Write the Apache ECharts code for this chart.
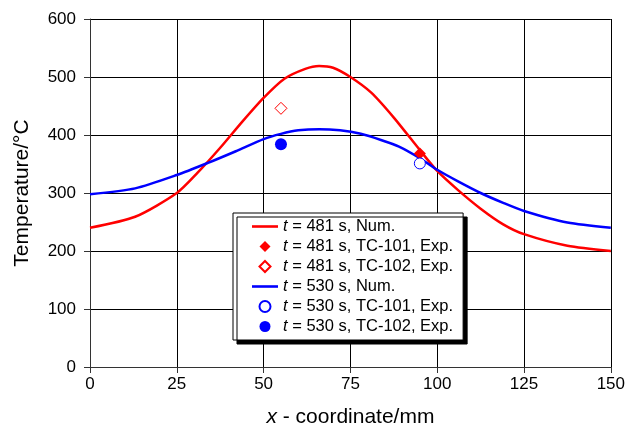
<!DOCTYPE html>
<html>
<head>
<meta charset="utf-8">
<script src="https://cdn.jsdelivr.net/npm/echarts@6/dist/echarts.min.js"></script>
<style>
  html, body { margin: 0; padding: 0; background: #fff; }
  #chart { width: 628px; height: 434px; }
</style>
</head>
<body>
<div id="chart"></div>
<script>
// Numerical temperature profiles along x (mm -> °C)
const num481X = [0, 13, 25, 31, 37.5, 44, 50, 56, 62, 66, 70, 75, 81, 87.5, 95, 100, 106, 112.5, 119, 125, 137.5, 150];
const num481T = [240, 259, 300, 335, 378, 424, 464, 497, 514, 519, 516, 500, 473, 430, 374, 338, 305, 273, 246, 229, 209, 200];

const num530X = [0, 13, 25, 34, 42, 50, 55, 60, 66, 72, 78, 84, 89, 95, 100, 106, 112.5, 119, 125, 137.5, 150];
const num530T = [298, 308, 331, 352, 372, 393, 402, 408, 410, 408, 402, 391, 380, 360, 340, 320, 300, 283, 269, 249, 240];

// Thermocouple measurements [x, T]
const exp481TC101 = [[95, 368]];
const exp481TC102 = [[55, 446]];
const exp530TC101 = [[95, 351]];
const exp530TC102 = [[55, 384]];

const seriesNames = [
  't = 481 s, Num.',
  't = 481 s, TC-101, Exp.',
  't = 481 s, TC-102, Exp.',
  't = 530 s, Num.',
  't = 530 s, TC-101, Exp.',
  't = 530 s, TC-102, Exp.'
];

const xTicks = { min: 0, max: 150, interval: 25 };
const yTicks = { min: 0, max: 600, interval: 100 };

const RED = '#ff0000';
const BLUE = '#0000ff';
const FONT = 'Liberation Sans, Arial, sans-serif';

// Legend glyphs: a short thick stroke for curves, square-aspect diamond for markers
const LINE_ICON = 'path://M0,0 L26,0 L26,2.6 L0,2.6 Z';
const DIAMOND_ICON = 'path://M5,0 L10,5 L5,10 L0,5 Z';

const zip = (xs, ys) => xs.map((x, i) => [x, ys[i]]);

const chart = echarts.init(document.getElementById('chart'), null, { renderer: 'canvas' });

chart.setOption({
  animation: false,
  backgroundColor: '#fff',
  textStyle: { fontFamily: FONT },
  grid: { left: 90, right: 16, top: 19, bottom: 67, containLabel: false },
  xAxis: {
    type: 'value',
    min: xTicks.min, max: xTicks.max, interval: xTicks.interval,
    name: '{i|x} - coordinate/mm',
    nameLocation: 'middle',
    nameGap: 40,
    nameTextStyle: {
      fontSize: 21, color: '#000', fontFamily: FONT,
      rich: { i: { fontStyle: 'italic', fontSize: 21, color: '#000', fontFamily: FONT } }
    },
    axisLine: { show: true, onZero: false, lineStyle: { color: '#333', width: 1 } },
    axisTick: { show: true, length: 6, lineStyle: { color: '#333' } },
    axisLabel: { fontSize: 17, color: '#000', margin: 9, fontFamily: FONT },
    splitLine: { show: true, lineStyle: { color: '#000', width: 1 } }
  },
  yAxis: {
    type: 'value',
    min: yTicks.min, max: yTicks.max, interval: yTicks.interval,
    name: 'Temperature/°C',
    nameLocation: 'middle',
    nameGap: 57,
    nameTextStyle: { fontSize: 21, color: '#000', fontFamily: FONT },
    axisLine: { show: true, onZero: false, lineStyle: { color: '#333', width: 1 } },
    axisTick: { show: true, length: 6, lineStyle: { color: '#333' } },
    axisLabel: { fontSize: 17, color: '#000', margin: 14, fontFamily: FONT },
    splitLine: { show: true, lineStyle: { color: '#000', width: 1 } }
  },
  legend: {
    orient: 'vertical',
    left: 233,
    top: 213,
    align: 'left',
    padding: [5, 10, 5, 19],
    itemGap: 3,
    itemWidth: 26,
    itemHeight: 11,
    itemTextGap: 5,
    symbolKeepAspect: true,
    backgroundColor: '#fff',
    borderColor: '#000',
    borderWidth: 1,
    shadowColor: '#000',
    shadowBlur: 0,
    shadowOffsetX: 4,
    shadowOffsetY: 4,
    data: [
      { name: seriesNames[0], icon: LINE_ICON },
      { name: seriesNames[1], icon: DIAMOND_ICON },
      { name: seriesNames[2], icon: DIAMOND_ICON },
      { name: seriesNames[3], icon: LINE_ICON },
      { name: seriesNames[4], icon: 'circle' },
      { name: seriesNames[5], icon: 'circle' }
    ],
    formatter: name => name.replace(/^t/, '{i|t}'),
    textStyle: {
      fontSize: 16.5, color: '#000', fontFamily: FONT, lineHeight: 14,
      rich: { i: { fontStyle: 'italic', fontSize: 16.5, color: '#000', fontFamily: FONT, lineHeight: 14 } }
    }
  },
  series: [
    {
      name: seriesNames[0], type: 'line', data: zip(num481X, num481T),
      smooth: 0.25, symbol: 'none', lineStyle: { color: RED, width: 2.5 }, itemStyle: { color: RED }, z: 3
    },
    {
      name: seriesNames[1], type: 'scatter', data: exp481TC101,
      symbol: 'diamond', symbolSize: 12, itemStyle: { color: RED, opacity: 1 }, z: 4
    },
    {
      name: seriesNames[2], type: 'scatter', data: exp481TC102,
      symbol: 'diamond', symbolSize: 12,
      itemStyle: { color: '#fff', borderColor: RED, borderWidth: 1, opacity: 1 }, z: 4
    },
    {
      name: seriesNames[3], type: 'line', data: zip(num530X, num530T),
      smooth: 0.25, symbol: 'none', lineStyle: { color: BLUE, width: 2.5 }, itemStyle: { color: BLUE }, z: 3
    },
    {
      name: seriesNames[4], type: 'scatter', data: exp530TC101,
      symbol: 'circle', symbolSize: 11,
      itemStyle: { color: '#fff', borderColor: BLUE, borderWidth: 1, opacity: 1 }, z: 4
    },
    {
      name: seriesNames[5], type: 'scatter', data: exp530TC102,
      symbol: 'circle', symbolSize: 12, itemStyle: { color: BLUE, opacity: 1 }, z: 4
    }
  ]
});
</script>
</body>
</html>
